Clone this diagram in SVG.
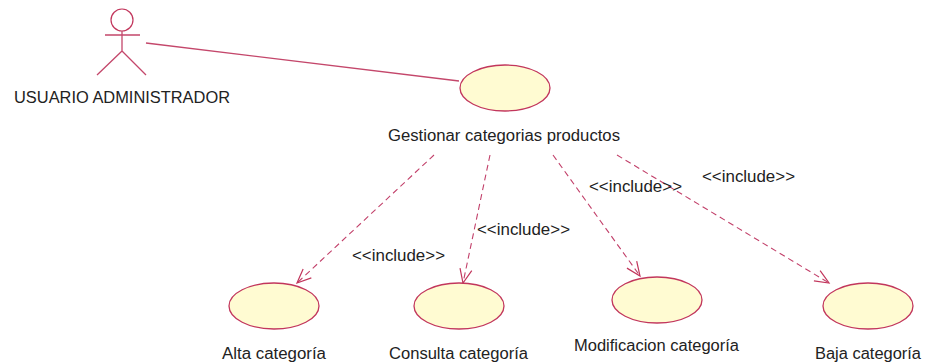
<svg xmlns="http://www.w3.org/2000/svg" width="925" height="364" viewBox="0 0 925 364">
<style>
.uc{fill:#fffbd2;stroke:#c2365c;stroke-width:1.3}
.st{fill:none;stroke:#c4476b;stroke-width:1.3}
.dash{fill:none;stroke:#c2406a;stroke-width:1.1;stroke-dasharray:6 4}
.head{fill:none;stroke:#c2365c;stroke-width:1.2}
text{font-family:"Liberation Sans",Arial,sans-serif;font-size:16px;fill:#222}
</style>
<defs>
<marker id="open" markerUnits="userSpaceOnUse" markerWidth="20" markerHeight="20" refX="15" refY="7" orient="auto">
<path d="M1 1 L15 7 L1 13" class="head"/>
</marker>
</defs>
<rect width="925" height="364" fill="#fff"/>
<g id="connectors">
<path class="st" d="M146 43 L459 81"/>
<path class="dash" d="M434 155 L297 283" marker-end="url(#open)"/>
<path class="dash" d="M490 155 L463 283" marker-end="url(#open)"/>
<path class="dash" d="M553 155 L640 276" marker-end="url(#open)"/>
<path class="dash" d="M617 155 L829 283" marker-end="url(#open)"/>
</g>
<g id="actor">
<circle class="head" cx="122" cy="20" r="11"/>
<path class="st" d="M122 31 V51 M105 35 H140 M122 51 L97 75 M122 51 L146 75"/>
<text x="14" y="103" textLength="216" lengthAdjust="spacingAndGlyphs">USUARIO ADMINISTRADOR</text>
</g>
<g id="uc-gestionar">
<ellipse class="uc" cx="505" cy="88" rx="45" ry="23"/>
<text x="388" y="141" textLength="232" lengthAdjust="spacingAndGlyphs">Gestionar categorias productos</text>
</g>
<g id="uc-alta">
<ellipse class="uc" cx="274" cy="306" rx="45" ry="23"/>
<text x="222" y="359" textLength="104" lengthAdjust="spacingAndGlyphs">Alta categoría</text>
</g>
<g id="uc-consulta">
<ellipse class="uc" cx="459" cy="306" rx="45" ry="23"/>
<text x="389" y="359" textLength="139" lengthAdjust="spacingAndGlyphs">Consulta categoría</text>
</g>
<g id="uc-modificacion">
<ellipse class="uc" cx="657" cy="300" rx="45" ry="23"/>
<text x="574" y="351" textLength="165" lengthAdjust="spacingAndGlyphs">Modificacion categoría</text>
</g>
<g id="uc-baja">
<ellipse class="uc" cx="868" cy="306" rx="45" ry="23"/>
<text x="815" y="359" textLength="106" lengthAdjust="spacingAndGlyphs">Baja categoría</text>
</g>
<g id="labels">
<text x="352" y="261" textLength="93" lengthAdjust="spacingAndGlyphs">&lt;&lt;include&gt;&gt;</text>
<text x="477" y="235" textLength="93" lengthAdjust="spacingAndGlyphs">&lt;&lt;include&gt;&gt;</text>
<text x="589" y="192" textLength="93" lengthAdjust="spacingAndGlyphs">&lt;&lt;include&gt;&gt;</text>
<text x="702" y="182" textLength="93" lengthAdjust="spacingAndGlyphs">&lt;&lt;include&gt;&gt;</text>
</g>
</svg>
